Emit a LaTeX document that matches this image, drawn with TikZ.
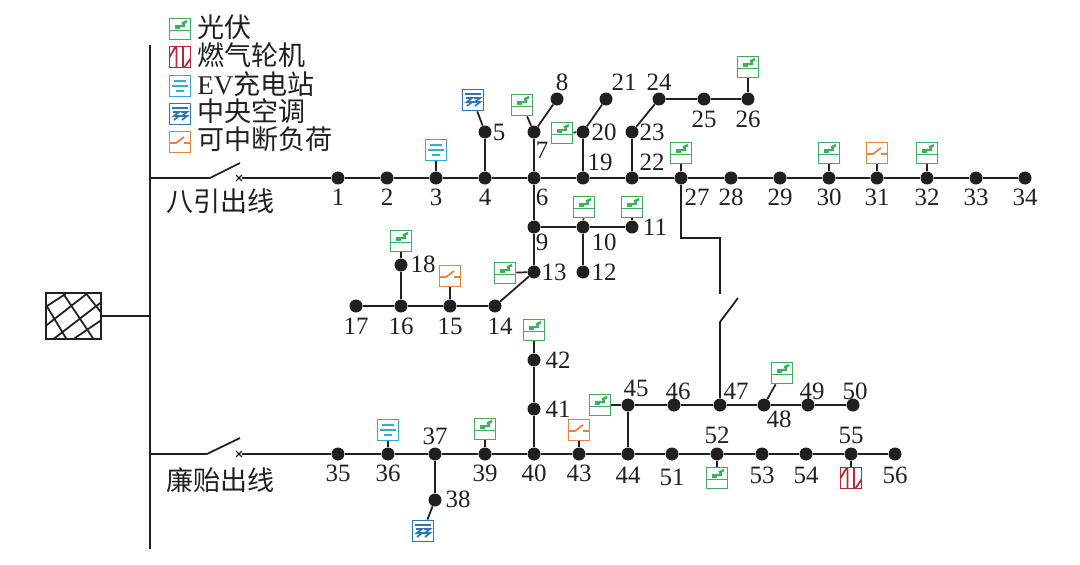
\documentclass[tikz,border=0pt]{standalone}
\usepackage{fontspec}
\setmainfont{Liberation Serif}
\newfontfamily\cjk{Noto Sans CJK SC}
\usetikzlibrary{positioning,arrows.meta,shapes,shapes.misc}
\definecolor{pvgreen}{HTML}{3FAE5F}
\definecolor{gtred}{HTML}{B5283B}
\definecolor{evblue}{HTML}{35A9D8}
\definecolor{acblue}{HTML}{2F74B5}
\definecolor{ilorange}{HTML}{E8803F}
\definecolor{inkblack}{HTML}{231F20}
\tikzset{
  bus/.style={circle, fill=inkblack, minimum size=0.26cm, inner sep=0pt},
  num/.style={font=\fontsize{14.2}{15}\selectfont, text=inkblack, inner sep=0pt},
  legendtext/.style={font=\fontsize{15.4}{16}\selectfont, text=inkblack, inner sep=0pt, anchor=west},
  wire/.style={draw=inkblack, line width=1pt},
  icon/.style={draw, rectangle, fill=white, minimum size=0.42cm, inner sep=0pt, line width=1pt},
  inshift/.style={shift={(path picture bounding box.center)}},
  pvicon/.style={icon, draw=pvgreen, path picture={
    \draw[inshift, pvgreen, line width=1pt] (-11,1.5) -- (11,1.5);
    \fill[inshift, pvgreen] (-5,-4.5) rectangle (0,-0.5);
    \draw[inshift, pvgreen, line width=1.4pt] (-1,-3) -- (4,-3) -- (4,-5.5) (2,-5.5) -- (7,-8);}},
  gticon/.style={icon, draw=gtred, path picture={
    \draw[inshift, gtred, line width=1pt] (-3.5,-11) -- (-3.5,11) (3,-11) -- (3,11) (-11,1) -- (-4,-11) (4,11) -- (11,1);}},
  evicon/.style={icon, draw=evblue, path picture={
    \draw[inshift, evblue, line width=0.9pt] (-6,-5) -- (6,-5) (-8,0) -- (8,0);
    \draw[inshift, evblue, line width=1.1pt] (-4,5) -- (4,5);}},
  acicon/.style={icon, draw=acblue, path picture={
    \draw[inshift, acblue, line width=1.2pt] (-8,-6) -- (8,-6);
    \draw[inshift, acblue, line width=1pt] (-7,-2) -- (-1,-2) -- (-6,2) -- (-1,2) -- (-6,6)
      (1,-2) -- (7,-2) -- (2,2) -- (7,2) -- (2,6);}},
  ilicon/.style={icon, draw=ilorange, path picture={
    \draw[inshift, ilorange, line width=1pt] (-11,1) -- (-4,1) -- (4,-5) (4,1) -- (11,1);}},
  gridbox/.style={draw=inkblack, rectangle, minimum width=1.1cm, minimum height=0.92cm, inner sep=0pt, line width=1pt, path picture={
    \draw[inshift, inkblack, line width=1pt] (-28,-9) -- (-8,-22) (-28,10) -- (13,-22) (-20,23) -- (28,-14) (0,23) -- (28,4)
      (-28,-12) -- (-7,23) (-10,-22) -- (20,23) (13,-22) -- (28,-3);}},
  tiemark/.style={draw=inkblack, cross out, minimum size=0.09cm, inner sep=0pt, line width=0.7pt}
}
\begin{document}
\begin{tikzpicture}[x=0.02cm, y=-0.02cm]
  \useasboundingbox (0,0) rectangle (1080,565);
  % legend
  \node[pvicon] (kpv) at (180,29) {};
  \node[gticon] (kgt) at (180,57) {};
  \node[evicon] (kev) at (180,86) {};
  \node[acicon] (kac) at (180,114) {};
  \node[ilicon] (kil) at (180,142) {};
  \node[legendtext] (tpv) at (197,27) {\cjk 光伏};
  \node[legendtext] (tgt) at (197,55) {\cjk 燃气轮机};
  \node[legendtext] (tev) at (197,84) {EV\cjk 充电站};
  \node[legendtext] (tac) at (197,111) {\cjk 中央空调};
  \node[legendtext] (til) at (197,139) {\cjk 可中断负荷};
  % source and busbar
  \node[gridbox] (grid) at (73.5,316) {};
  \coordinate (bartop) at (150,45);
  \coordinate (barbot) at (150,549);
  \coordinate (barmid) at (150,316);
  \draw[wire] (bartop) -- (barbot);
  \draw[wire] (grid) -- (barmid);
  % upper feeder
  \node[bus] (n1) at (338,178) {}; \node[num] (t1) at (338,197) {1};
  \node[bus] (n2) at (387,178) {}; \node[num] (t2) at (387,197) {2};
  \node[bus] (n3) at (436,178) {}; \node[num] (t3) at (436,197) {3};
  \node[bus] (n4) at (485,178) {}; \node[num] (t4) at (485,197) {4};
  \node[bus] (n5) at (485,132) {}; \node[num] (t5) at (499,132) {5};
  \node[bus] (n6) at (534,178) {}; \node[num] (t6) at (542,197) {6};
  \node[bus] (n7) at (534,132) {}; \node[num] (t7) at (542,150) {7};
  \node[bus] (n8) at (557,99) {}; \node[num] (t8) at (562,82) {8};
  \node[bus] (n9) at (534,227) {}; \node[num] (t9) at (542,242) {9};
  \node[bus] (n10) at (583,227) {}; \node[num] (t10) at (604,242) {10};
  \node[bus] (n11) at (632,227) {}; \node[num] (t11) at (655,227) {11};
  \node[bus] (n12) at (583,272) {}; \node[num] (t12) at (604,272) {12};
  \node[bus] (n13) at (534,272) {}; \node[num] (t13) at (554,272) {13};
  \node[bus] (n14) at (495,306) {}; \node[num] (t14) at (500,326) {14};
  \node[bus] (n15) at (450,306) {}; \node[num] (t15) at (450,326) {15};
  \node[bus] (n16) at (401,306) {}; \node[num] (t16) at (401,326) {16};
  \node[bus] (n17) at (356,306) {}; \node[num] (t17) at (356,326) {17};
  \node[bus] (n18) at (401,265) {}; \node[num] (t18) at (423,264) {18};
  \node[bus] (n19) at (583,178) {}; \node[num] (t19) at (600,162) {19};
  \node[bus] (n20) at (583,132) {}; \node[num] (t20) at (604,132) {20};
  \node[bus] (n21) at (606,99) {}; \node[num] (t21) at (624,82) {21};
  \node[bus] (n22) at (632,178) {}; \node[num] (t22) at (652,162) {22};
  \node[bus] (n23) at (632,132) {}; \node[num] (t23) at (652,132) {23};
  \node[bus] (n24) at (659,99) {}; \node[num] (t24) at (659,82) {24};
  \node[bus] (n25) at (704,99) {}; \node[num] (t25) at (704,119) {25};
  \node[bus] (n26) at (748,99) {}; \node[num] (t26) at (748,119) {26};
  \node[bus] (n27) at (681,178) {}; \node[num] (t27) at (697,197) {27};
  \node[bus] (n28) at (731,178) {}; \node[num] (t28) at (731,197) {28};
  \node[bus] (n29) at (780,178) {}; \node[num] (t29) at (780,197) {29};
  \node[bus] (n30) at (829,178) {}; \node[num] (t30) at (829,197) {30};
  \node[bus] (n31) at (877,178) {}; \node[num] (t31) at (877,197) {31};
  \node[bus] (n32) at (927,178) {}; \node[num] (t32) at (927,197) {32};
  \node[bus] (n33) at (976,178) {}; \node[num] (t33) at (976,197) {33};
  \node[bus] (n34) at (1025,178) {}; \node[num] (t34) at (1025,197) {34};
  % lower feeder
  \node[bus] (n35) at (338,454) {}; \node[num] (t35) at (338,473) {35};
  \node[bus] (n36) at (388,454) {}; \node[num] (t36) at (388,473) {36};
  \node[bus] (n37) at (435,454) {}; \node[num] (t37) at (435,436) {37};
  \node[bus] (n38) at (435,500) {}; \node[num] (t38) at (458,499) {38};
  \node[bus] (n39) at (485,454) {}; \node[num] (t39) at (485,473) {39};
  \node[bus] (n40) at (534,454) {}; \node[num] (t40) at (534,473) {40};
  \node[bus] (n41) at (534,409) {}; \node[num] (t41) at (558,409) {41};
  \node[bus] (n42) at (534,360) {}; \node[num] (t42) at (558,360) {42};
  \node[bus] (n43) at (579,454) {}; \node[num] (t43) at (579,473) {43};
  \node[bus] (n44) at (628,454) {}; \node[num] (t44) at (628,475) {44};
  \node[bus] (n45) at (628,405) {}; \node[num] (t45) at (636,388) {45};
  \node[bus] (n46) at (674,405) {}; \node[num] (t46) at (678,391) {46};
  \node[bus] (n47) at (720,405) {}; \node[num] (t47) at (736,391) {47};
  \node[bus] (n48) at (764,405) {}; \node[num] (t48) at (779,419) {48};
  \node[bus] (n49) at (808,405) {}; \node[num] (t49) at (812,391) {49};
  \node[bus] (n50) at (853,405) {}; \node[num] (t50) at (855,391) {50};
  \node[bus] (n51) at (672,454) {}; \node[num] (t51) at (672,477) {51};
  \node[bus] (n52) at (717,454) {}; \node[num] (t52) at (717,435) {52};
  \node[bus] (n53) at (762,454) {}; \node[num] (t53) at (762,475) {53};
  \node[bus] (n54) at (806,454) {}; \node[num] (t54) at (806,475) {54};
  \node[bus] (n55) at (851,454) {}; \node[num] (t55) at (851,435) {55};
  \node[bus] (n56) at (895,454) {}; \node[num] (t56) at (895,475) {56};
  % devices
  \node[evicon] (ev3) at (436,150) {};
  \node[acicon] (ac5) at (473,100) {};
  \node[pvicon] (pv7) at (522,105) {};
  \node[pvicon] (pv20) at (562,133) {};
  \node[pvicon] (pv26) at (748,67) {};
  \node[pvicon] (pv27) at (681,153) {};
  \node[pvicon] (pv30) at (829,153) {};
  \node[ilicon] (il31) at (877,153) {};
  \node[pvicon] (pv32) at (927,153) {};
  \node[pvicon] (pv10) at (584,207) {};
  \node[pvicon] (pv11) at (632,207) {};
  \node[pvicon] (pv13) at (505,273) {};
  \node[ilicon] (il15) at (450,276) {};
  \node[pvicon] (pv18) at (401,241) {};
  \node[pvicon] (pv42) at (534,330) {};
  \node[evicon] (ev36) at (388,430) {};
  \node[acicon] (ac38) at (423,531) {};
  \node[pvicon] (pv39) at (485,429) {};
  \node[ilicon] (il43) at (579,430) {};
  \node[pvicon] (pv45) at (600,405) {};
  \node[pvicon] (pv48) at (782,373) {};
  \node[pvicon] (pv52) at (717,478) {};
  \node[gticon] (gt55) at (851,478) {};
  % feeder switches
  \coordinate (sa) at (210,178); \coordinate (sb) at (240,163);
  \coordinate (sc) at (207,454); \coordinate (sd) at (240,438);
  \coordinate (barup) at (150,178); \coordinate (barlow) at (150,454);
  \node[tiemark] (xa) at (239,178) {};
  \node[tiemark] (xb) at (239,454) {};
  \draw[wire] (barup) -- (sa) -- (sb);
  \draw[wire] (barlow) -- (sc) -- (sd);
  \draw[wire] (xa) -- (n1);
  \draw[wire] (xb) -- (n35);
  \node[legendtext] (la) at (166,201) {\cjk 八引出线};
  \node[legendtext] (lb) at (166,480) {\cjk 廉贻出线};
  % main lines
  \draw[wire] (n1) -- (n2) -- (n3) -- (n4) -- (n6) -- (n19) -- (n22) -- (n27) -- (n28) -- (n29) -- (n30) -- (n31) -- (n32) -- (n33) -- (n34);
  \draw[wire] (n35) -- (n36) -- (n37) -- (n39) -- (n40) -- (n43) -- (n44) -- (n51) -- (n52) -- (n53) -- (n54) -- (n55) -- (n56);
  \draw[wire] (n4) -- (n5);
  \draw[wire] (n6) -- (n7) -- (n8);
  \draw[wire] (n19) -- (n20) -- (n21);
  \draw[wire] (n22) -- (n23) -- (n24) -- (n25) -- (n26);
  \draw[wire] (n6) -- (n9) -- (n13) -- (n14) -- (n15) -- (n16) -- (n17);
  \draw[wire] (n9) -- (n10) -- (n11);
  \draw[wire] (n10) -- (n12);
  \draw[wire] (n16) -- (n18);
  \draw[wire] (n37) -- (n38);
  \draw[wire] (n40) -- (n41) -- (n42);
  \draw[wire] (n44) -- (n45) -- (n46) -- (n47) -- (n48) -- (n49) -- (n50);
  % tie line
  \coordinate (ta) at (681,238); \coordinate (tb) at (720,238); \coordinate (tc) at (720,294);
  \coordinate (td) at (720,322); \coordinate (te) at (738,298);
  \draw[wire] (n27) -- (ta) -- (tb) -- (tc);
  \draw[wire] (n47) -- (td) -- (te);
  % device stubs
  \draw[wire] (ev3) -- (n3);
  \draw[wire] (ac5) -- (n5);
  \draw[wire] (pv7) -- (n7);
  \draw[wire] (pv20) -- (n20);
  \draw[wire] (pv26) -- (n26);
  \draw[wire] (pv27) -- (n27);
  \draw[wire] (pv30) -- (n30);
  \draw[wire] (il31) -- (n31);
  \draw[wire] (pv32) -- (n32);
  \draw[wire] (pv10) -- (n10);
  \draw[wire] (pv11) -- (n11);
  \draw[wire] (pv13) -- (n13);
  \draw[wire] (il15) -- (n15);
  \draw[wire] (pv18) -- (n18);
  \draw[wire] (pv42) -- (n42);
  \draw[wire] (ev36) -- (n36);
  \draw[wire] (ac38) -- (n38);
  \draw[wire] (pv39) -- (n39);
  \draw[wire] (il43) -- (n43);
  \draw[wire] (pv45) -- (n45);
  \draw[wire] (pv48) -- (n48);
  \draw[wire] (pv52) -- (n52);
  \draw[wire] (gt55) -- (n55);
\end{tikzpicture}
\end{document}
